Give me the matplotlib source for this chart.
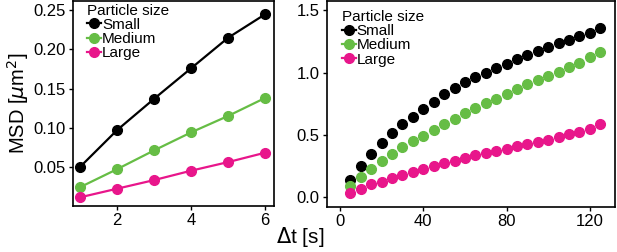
import matplotlib.pyplot as plt

# short lag times (left panel)
dt_short = [1, 2, 3, 4, 5, 6]
small_short = [0.050, 0.097, 0.137, 0.176, 0.215, 0.245]
medium_short = [0.024, 0.047, 0.071, 0.094, 0.115, 0.138]
large_short = [0.011, 0.022, 0.033, 0.045, 0.056, 0.068]

# long lag times (right panel)
dt_long = [5, 10, 15, 20, 25, 30, 35, 40, 45, 50, 55, 60, 65,
           70, 75, 80, 85, 90, 95, 100, 105, 110, 115, 120, 125]
small_long = [0.14, 0.25, 0.35, 0.437, 0.516, 0.589, 0.647, 0.71, 0.768,
              0.826, 0.879, 0.923, 0.963, 0.995, 1.036, 1.071, 1.106, 1.138,
              1.17, 1.202, 1.234, 1.262, 1.29, 1.32, 1.36]
medium_long = [0.09, 0.165, 0.223, 0.292, 0.346, 0.404, 0.449, 0.489, 0.537,
               0.585, 0.63, 0.675, 0.715, 0.755, 0.79, 0.83, 0.872, 0.91,
               0.942, 0.976, 1.008, 1.042, 1.077, 1.122, 1.162]
large_long = [0.032, 0.064, 0.106, 0.125, 0.152, 0.178, 0.199, 0.223, 0.25,
              0.276, 0.292, 0.319, 0.338, 0.356, 0.372, 0.391, 0.409, 0.431,
              0.441, 0.463, 0.484, 0.505, 0.524, 0.551, 0.591]

labels = ['Small', 'Medium', 'Large']
colors = ['#000000', '#66bd45', '#e8168b']

plt.rcParams['font.family'] = ['Liberation Sans', 'DejaVu Sans']

fig = plt.figure(figsize=(6.17, 2.52), dpi=100)
ax1 = fig.add_axes([0.118, 0.183, 0.326, 0.813])
ax2 = fig.add_axes([0.5295, 0.180, 0.468, 0.816])

for ys, lab, c in zip([small_short, medium_short, large_short], labels, colors):
    ax1.plot(dt_short, ys, '-o', color=c, ms=7, lw=1.6, label=lab)

for ys, lab, c in zip([small_long, medium_long, large_long], labels, colors):
    ax2.plot(dt_long, ys, 'o', color=c, ms=7, label=lab)

ax1.set_xlim(0.8, 6.24)
ax1.set_ylim(0.0, 0.262)
ax1.set_xticks([2, 4, 6])
ax1.set_yticks([0.05, 0.10, 0.15, 0.20, 0.25])
ax1.set_yticklabels(['0.05', '0.10', '0.15', '0.20', '0.25'])

ax2.set_xlim(-6.4, 132.3)
ax2.set_ylim(-0.075, 1.574)
ax2.set_xticks([0, 40, 80, 120])
ax2.set_yticks([0.0, 0.5, 1.0, 1.5])

# 축 스타일
for ax, anchor in [(ax1, (0.035, 1.025)), (ax2, (0.027, 0.995))]:
    for sp in ax.spines.values():
        sp.set_linewidth(1.2)
    ax.tick_params(direction='out', length=3, width=1, labelsize=12, pad=2)
    # legend handles always show marker with a short line
    handles = [plt.Line2D([], [], color=c, marker='o', ms=7, lw=1.6) for c in colors]
    leg = ax.legend(handles, labels, title='Particle size', loc='upper left',
                    bbox_to_anchor=anchor, frameon=False, fontsize=11,
                    title_fontsize=11, handlelength=0.9, handletextpad=0.05,
                    labelspacing=0.02, borderaxespad=0.3, borderpad=0.2)
    leg._legend_box.align = 'left'

ax1.set_ylabel(r'MSD [$\mu$m$^2$]', fontsize=14.5, labelpad=2)
fig.text(0.487, 0.01, r'$\Delta$t [s]', fontsize=15, ha='center', va='bottom')

fig.savefig('out.png', dpi=100)
